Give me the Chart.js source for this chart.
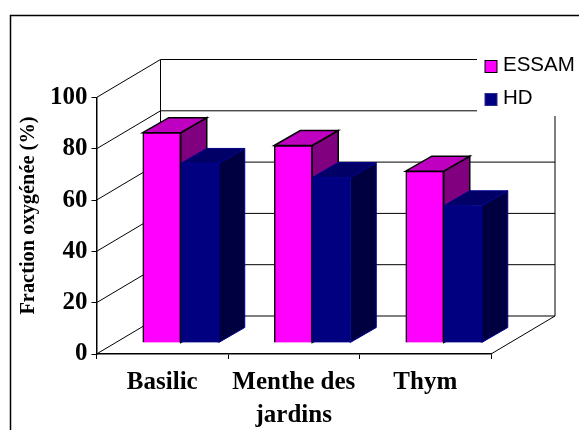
<!DOCTYPE html>
<html>
<head>
<meta charset="utf-8">
<title>Fraction oxygénée</title>
<script src="https://cdn.jsdelivr.net/npm/chart.js@4/dist/chart.umd.min.js"></script>
<style>
    html, body { margin: 0; padding: 0; background: #fff; }
    canvas { display: block; }
</style>
</head>
<body>
<canvas id="myChart" width="579" height="430"></canvas>
<script>
const categories = [['Basilic'], ['Menthe des', 'jardins'], ['Thym']];
const essam = [82, 77, 67];
const hd = [70, 64.5, 53.5];
const yTicks = [0, 20, 40, 60, 80, 100];
const yTitle = 'Fraction oxygénée (%)';

// depth of the 3D box and of the bars, in pixels
const wall = { dx: 64, dy: -38 };
const barShift = { dx: 18.5, dy: -11 };
const barDepth = { dx: 26, dy: -15 };

const serif = "'Liberation Serif', 'Times New Roman', serif";

function line(ctx, points, color, width) {
    ctx.beginPath();
    ctx.moveTo(points[0][0], points[0][1]);
    points.slice(1).forEach(function(p) { ctx.lineTo(p[0], p[1]); });
    ctx.strokeStyle = color;
    ctx.lineWidth = width;
    ctx.stroke();
}

function poly(ctx, points, fill, stroke, width) {
    ctx.beginPath();
    ctx.moveTo(points[0][0], points[0][1]);
    points.slice(1).forEach(function(p) { ctx.lineTo(p[0], p[1]); });
    ctx.closePath();
    ctx.fillStyle = fill;
    ctx.fill();
    ctx.strokeStyle = stroke;
    ctx.lineWidth = width;
    ctx.stroke();
}

const box3d = {
    id: 'box3d',
    beforeDatasetsDraw(chart) {
        const ctx = chart.ctx;
        const a = chart.chartArea;
        const y = chart.scales.y;
        ctx.save();
        // outer frame
        line(ctx, [[10.5, 430], [10.5, 15.5], [579, 15.5]], '#000', 1.5);
        // back wall and floor
        yTicks.forEach(function(v) {
            const py = y.getPixelForValue(v);
            line(ctx, [[a.left, py], [a.left + wall.dx, py + wall.dy], [a.right + wall.dx, py + wall.dy]], '#000', 1);
        });
        line(ctx, [[a.left + wall.dx, a.top + wall.dy], [a.left + wall.dx, a.bottom + wall.dy]], '#000', 1);
        line(ctx, [[a.right + wall.dx, a.top + wall.dy], [a.right + wall.dx, a.bottom + wall.dy], [a.right, a.bottom]], '#000', 1);
        // blank box behind the legend
        ctx.fillStyle = '#fff';
        ctx.fillRect(477, 17, 102, 99);
        ctx.restore();
        // bars sit a bit inside the floor
        ctx.save();
        ctx.translate(barShift.dx, barShift.dy);
        // side and top faces first, ESSAM then HD, fronts come from the bars
        chart.data.datasets.forEach(function(ds, i) {
            chart.getDatasetMeta(i).data.forEach(function(bar) {
                const l = bar.x - bar.width / 2;
                const r = bar.x + bar.width / 2;
                const t = bar.y;
                const b = bar.base;
                const d = barDepth;
                poly(ctx, [[r, t], [r + d.dx, t + d.dy], [r + d.dx, b + d.dy], [r, b]], ds.sideColor, ds.borderColor, ds.borderWidth);
                poly(ctx, [[l, t], [l + d.dx, t + d.dy], [r + d.dx, t + d.dy], [r, t]], ds.topColor, ds.borderColor, ds.borderWidth);
            });
        });
    },
    afterDatasetsDraw(chart) {
        chart.ctx.restore();
        const ctx = chart.ctx;
        ctx.save();
        // legend
        ctx.font = "20.5px 'Liberation Sans', Arial, sans-serif";
        ctx.textBaseline = 'alphabetic';
        chart.data.datasets.forEach(function(ds, i) {
            const sy = 60.5 + i * 33;
            ctx.fillStyle = ds.backgroundColor;
            ctx.fillRect(485, sy, 12, 12);
            ctx.strokeStyle = i === 0 ? '#000' : '#2a2a90';
            ctx.lineWidth = 1;
            ctx.strokeRect(485, sy, 12, 12);
            ctx.fillStyle = '#000';
            ctx.fillText(ds.label, 503, sy + 10);
        });
        // axis title
        ctx.translate(34, 215.5);
        ctx.rotate(-Math.PI / 2);
        ctx.font = 'bold 20.4px ' + serif;
        ctx.textAlign = 'center';
        ctx.fillStyle = '#000';
        ctx.fillText(yTitle, 0, 0);
        ctx.restore();
    }
};

new Chart(document.getElementById('myChart'), {
    type: 'bar',
    data: {
        labels: categories,
        datasets: [
            {
                label: 'ESSAM',
                data: essam,
                backgroundColor: '#ff00ff',
                topColor: '#c000c0',
                sideColor: '#800080',
                borderColor: '#000',
                borderWidth: 1.5
            },
            {
                label: 'HD',
                data: hd,
                backgroundColor: '#000080',
                topColor: '#000066',
                sideColor: '#000040',
                borderColor: '#000090',
                borderWidth: 1
            }
        ]
    },
    options: {
        responsive: false,
        animation: false,
        layout: { padding: { top: 97.5, right: 88 } },
        datasets: { bar: { barThickness: 38 } },
        scales: {
            x: {
                afterFit(s) { s.height = 76; },
                grid: { drawOnChartArea: false, tickLength: 5, color: '#000', offset: true },
                border: { color: '#000', width: 1.5 },
                ticks: {
                    color: '#000',
                    maxRotation: 0,
                    autoSkip: false,
                    padding: 7,
                    font: { family: serif, size: 25, weight: 'bold', lineHeight: 1.32 }
                }
            },
            y: {
                min: 0,
                max: 100,
                afterFit(s) { s.width = 96.5; },
                afterBuildTicks(s) { s.ticks = yTicks.map(function(v) { return { value: v }; }); },
                grid: { drawOnChartArea: false, tickLength: 5, color: '#000' },
                border: { color: '#000', width: 1.5 },
                ticks: {
                    color: '#000',
                    padding: 4,
                    font: { family: serif, size: 25, weight: 'bold' }
                }
            }
        },
        plugins: {
            legend: { display: false },
            tooltip: { enabled: false }
        }
    },
    plugins: [box3d]
});
</script>
</body>
</html>
